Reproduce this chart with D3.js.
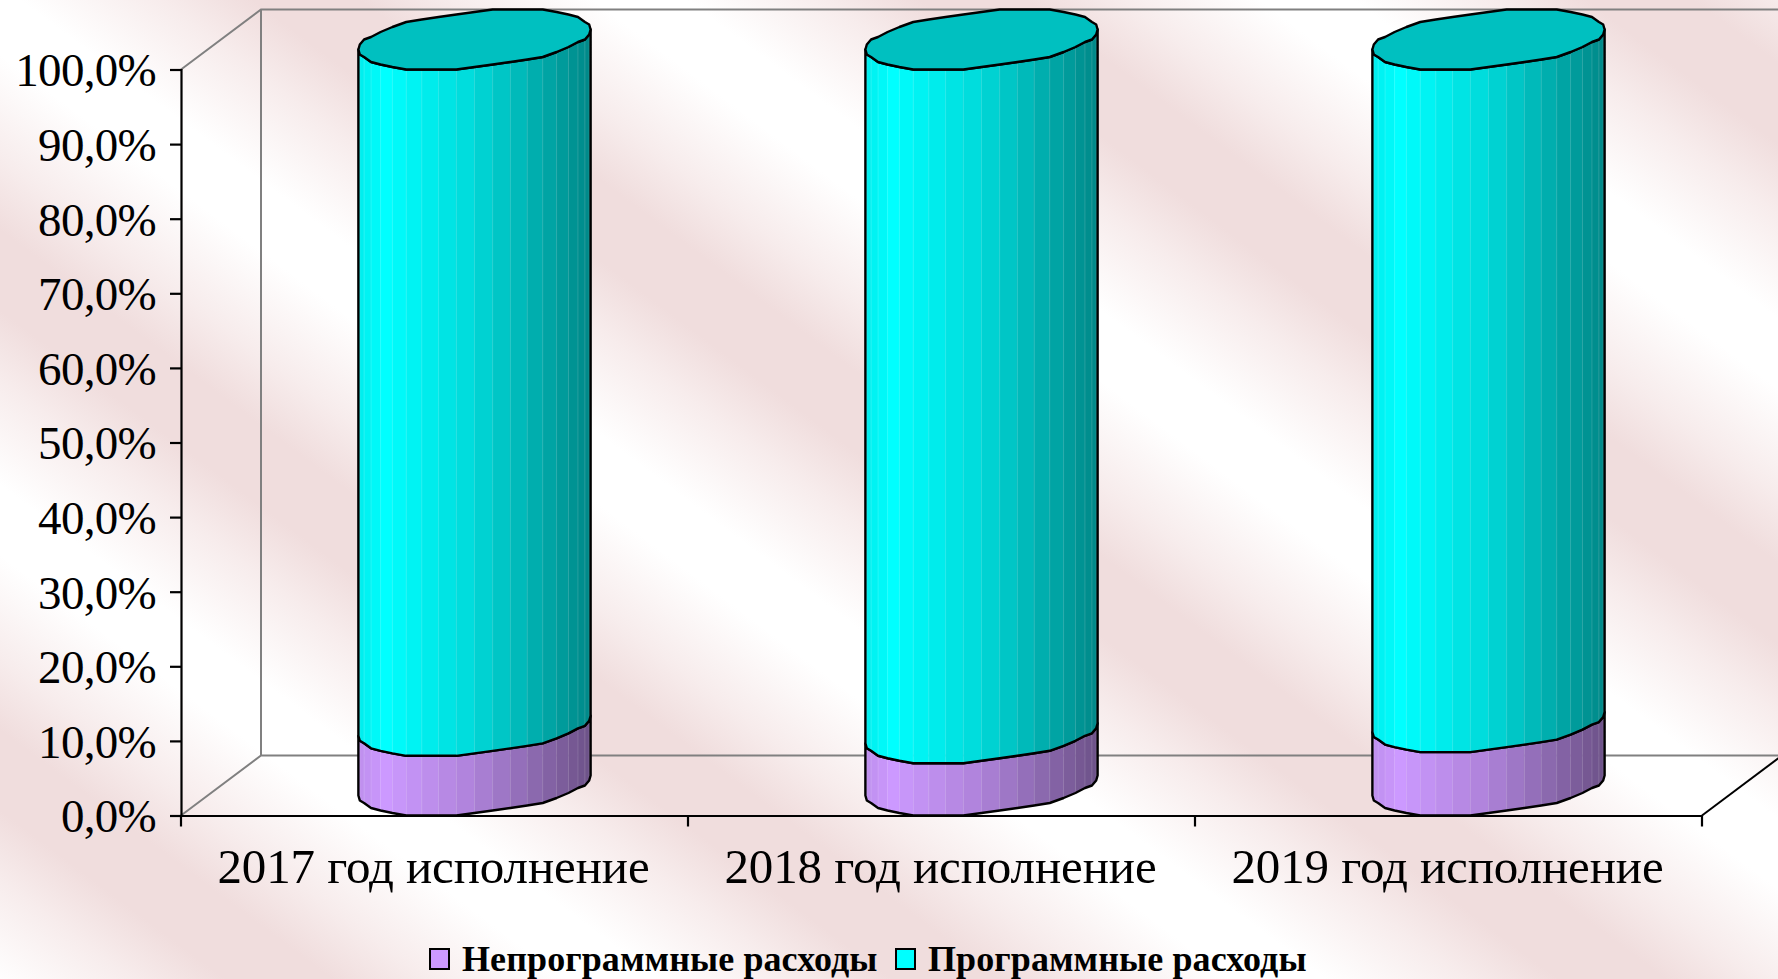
<!DOCTYPE html>
<html>
<head>
<meta charset="utf-8">
<script src="https://cdn.jsdelivr.net/npm/d3@7"></script>
<style>
  html, body { margin: 0; padding: 0; background: #fff; overflow: hidden; }
  svg { display: block; font-family: "Liberation Serif", serif; }
</style>
</head>
<body>
<div id="chart"></div>
<script>
const categories = ["2017 год исполнение", "2018 год исполнение", "2019 год исполнение"];
const seriesNames = ["Непрограммные расходы", "Программные расходы"];
const nonProgram = [8.0, 7.0, 8.5];
const program = [92.0, 93.0, 91.5];
const yTicks = [0, 10, 20, 30, 40, 50, 60, 70, 80, 90, 100];
const seriesColors = ["#cc99ff", "#00ffff"];

const width = 1778;
const height = 979;
const margins = { left: 181, right: 76, top: 69.5, bottom: 163.5 };
const depth = { x: 80, y: -60 };
const facets = 40; // whole circle, the way Excel cuts its cylinders
const snap = 2.5;

const svg = d3.select("#chart").append("svg")
    .attr("width", width)
    .attr("height", height);

// pale diagonal stripes behind everything
const grad = svg.append("defs").append("linearGradient")
    .attr("id", "stripes")
    .attr("gradientUnits", "userSpaceOnUse")
    .attr("spreadMethod", "repeat")
    .attr("x1", 0).attr("y1", 20)
    .attr("x2", -240).attr("y2", 340);
grad.selectAll("stop")
    .data([[0, "#ffffff"], [0.07, "#ffffff"], [0.28, "#f7ecec"], [0.42, "#f0dddd"], [0.58, "#f0dddd"], [0.72, "#f7ecec"], [0.93, "#ffffff"], [1, "#ffffff"]])
    .join("stop")
    .attr("offset", d => d[0])
    .attr("stop-color", d => d[1]);
svg.append("rect").attr("width", width).attr("height", height).attr("fill", "url(#stripes)");

const x = d3.scaleBand()
    .domain(categories)
    .range([margins.left, width - margins.right])
    .paddingInner(0.57)
    .paddingOuter(0.285);
const y = d3.scaleLinear()
    .domain([0, 100])
    .range([height - margins.bottom, margins.top]);

const x0 = x.range()[0], x1 = x.range()[1];
const y0 = y(0), y100 = y(100);

// walls and floor
const wall = svg.append("g").attr("fill", "none").attr("stroke", "#808080").attr("stroke-width", 2);
const line = d3.line();
wall.append("path").attr("d", line([[x0, y100], [x0 + depth.x, y100 + depth.y], [width + 10, y100 + depth.y]]));
wall.append("path").attr("d", line([[x0, y0], [x0 + depth.x, y0 + depth.y], [width + 10, y0 + depth.y]]));
wall.append("path").attr("d", line([[x0 + depth.x, y100 + depth.y], [x0 + depth.x, y0 + depth.y]]));
svg.append("path")
    .attr("d", line([[x1, y0], [x1 + depth.x, y0 + depth.y]]))
    .attr("fill", "none")
    .attr("stroke", "#000")
    .attr("stroke-width", 2);

// cylinders
const rows = categories.map((c, i) => ({ cat: c, a: nonProgram[i], b: program[i] }));
const stacked = d3.stack().keys(["a", "b"])(rows);

const halfW = x.bandwidth() / 2;
const tRight = Math.atan2(depth.x / 2, halfW);
const reach = Math.hypot(halfW, depth.x / 2);

const rim = t => [
    halfW * Math.cos(t) + depth.x / 2 * Math.sin(t),
    Math.round(depth.y / 2 * Math.sin(t) / snap) * snap
];
// the front half, right silhouette to left silhouette
const frontRim = d3.range(facets / 2 + 1).map(i => rim(tRight - Math.PI * i / (facets / 2))).reverse();
const fullRim = d3.range(facets).map(i => rim(tRight + 2 * Math.PI * i / facets));

const shade = d3.scaleLinear().domain([0, 0.12, 0.5, 1]).range([0.93, 1, 0.85, 0.53]);
const shadeColor = (base, f) => {
    const c = d3.rgb(base);
    return d3.rgb(c.r * f, c.g * f, c.b * f).formatHex();
};

const cylinders = svg.append("g");
stacked.forEach((layer, s) => {
    const g = cylinders.append("g");
    layer.forEach(d => {
        const cx = x(d.data.cat) + halfW + depth.x / 2;
        const yLow = y(d[0]) + depth.y / 2;
        const yHigh = y(d[1]) + depth.y / 2;
        const strips = d3.pairs(frontRim);
        g.selectAll(null)
            .data(strips)
            .join("path")
            .attr("d", ([p, q]) => line([
                [cx + p[0], yLow + p[1]], [cx + q[0], yLow + q[1]],
                [cx + q[0], yHigh + q[1]], [cx + p[0], yHigh + p[1]]
            ]) + "Z")
            .attr("fill", ([p, q]) => shadeColor(seriesColors[s], shade(((p[0] + q[0]) / 2 + reach) / (2 * reach))))
            .attr("stroke", ([p, q]) => shadeColor(seriesColors[s], shade(((p[0] + q[0]) / 2 + reach) / (2 * reach))))
            .attr("stroke-width", 0.6);
        // light seams between strips
        g.selectAll(null)
            .data(frontRim.slice(1, -1))
            .join("line")
            .attr("x1", p => cx + p[0]).attr("x2", p => cx + p[0])
            .attr("y1", p => yLow + p[1]).attr("y2", p => yHigh + p[1])
            .attr("stroke", "#fff").attr("stroke-opacity", 0.14).attr("stroke-width", 1);
        // outline of the segment
        const low = frontRim.map(p => [cx + p[0], yLow + p[1]]);
        const high = frontRim.map(p => [cx + p[0], yHigh + p[1]]);
        g.append("path")
            .attr("d", line(low.concat(high.slice().reverse())) + "Z")
            .attr("fill", "none")
            .attr("stroke", "#000")
            .attr("stroke-width", 2.4)
            .attr("stroke-linejoin", "round");
        if (s === stacked.length - 1) {
            g.append("path")
                .attr("d", line(fullRim.map(p => [cx + p[0], yHigh + p[1]])) + "Z")
                .attr("fill", "#00c0c0")
                .attr("stroke", "#000")
                .attr("stroke-width", 2.4)
                .attr("stroke-linejoin", "round");
        }
    });
});

// axes
const gy = svg.append("g")
    .attr("transform", `translate(${x0},0)`)
    .call(d3.axisLeft(y)
        .tickValues(yTicks)
        .tickSizeOuter(0)
        .tickSize(11)
        .tickPadding(14)
        .tickFormat(d => d3.format(".1f")(d).replace(".", ",") + "%"));

const gx = svg.append("g")
    .attr("transform", `translate(0,${y0})`)
    .call(d3.axisBottom(x).tickSize(0).tickSizeOuter(0).tickPadding(33));
gx.selectAll(".tick").attr("transform", d => `translate(${x(d) + halfW - 1},0)`);

// ticks sit on the band edges, not on the band centres
gx.selectAll("line.edge")
    .data(d3.range(categories.length + 1))
    .join("line")
    .attr("class", "edge")
    .attr("x1", i => x0 + i * x.step()).attr("x2", i => x0 + i * x.step())
    .attr("y1", 0).attr("y2", 11)
    .attr("stroke", "#000");

[gx, gy].forEach(g => {
    g.attr("font-family", "'Liberation Serif', serif");
    g.selectAll("text").attr("fill", "#000");
    g.selectAll("line, path").attr("stroke", "#000").attr("stroke-width", 2.2);
});
gy.attr("font-size", 47).attr("letter-spacing", "-0.7px");
gx.attr("font-size", 49).attr("letter-spacing", "-0.1px");
gy.selectAll("text").attr("dy", "0.35em");

// legend
const legend = svg.append("g")
    .attr("font-family", "'Liberation Serif', serif")
    .attr("font-weight", "bold")
    .attr("font-size", 36)
    .attr("letter-spacing", "0.1px");
const legendX = [430, 896];
const item = legend.selectAll("g")
    .data(seriesNames)
    .join("g")
    .attr("transform", (_, i) => `translate(${legendX[i]},949)`);
item.append("rect")
    .attr("width", 19).attr("height", 20)
    .attr("fill", (_, i) => seriesColors[i])
    .attr("stroke", "#000")
    .attr("stroke-width", 2);
item.append("text")
    .attr("x", (_, i) => i === 0 ? 32 : 32)
    .attr("y", 22)
    .attr("fill", "#000")
    .text(d => d);
</script>
</body>
</html>
